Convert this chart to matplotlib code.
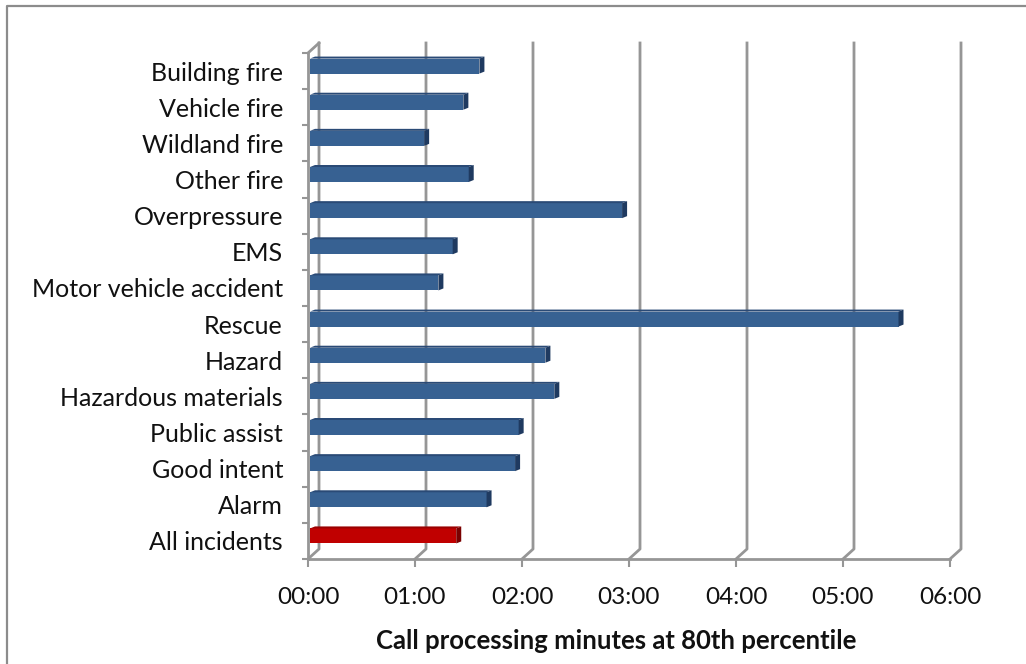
import numpy as np
import matplotlib
matplotlib.use("Agg")
import matplotlib.pyplot as plt
from matplotlib.lines import Line2D
from matplotlib.patches import Polygon
from matplotlib.ticker import FuncFormatter, MultipleLocator

# incident types, top to bottom
categories = ["Building fire", "Vehicle fire", "Wildland fire", "Other fire",
              "Overpressure", "EMS", "Motor vehicle accident", "Rescue",
              "Hazard", "Hazardous materials", "Public assist", "Good intent",
              "Alarm", "All incidents"]
# call processing time at the 80th percentile, in seconds
seconds = [95, 86, 64, 89, 175, 80, 72, 330, 132, 137, 117, 115, 99, 82]
highlight = "All incidents"
x_max = 360      # 6 minutes
x_step = 60

plt.rcParams["font.family"] = ["Lato", "DejaVu Sans"]

W, H = 1026, 664
fig = plt.figure(figsize=(W / 100, H / 100), dpi=100)

# front plane of the plot area, pixels from the top-left corner
left, right, top, bottom = 308, 950, 53, 559
ax = fig.add_axes([left / W, 1 - bottom / H, (right - left) / W, (bottom - top) / H])

n = len(categories)
ax.set_xlim(0, x_max)
ax.set_ylim(-0.5, n - 0.5)
ypos = np.arange(n)[::-1]

# size of one pixel in data units, for the fake 3d depth
px_x = x_max / (right - left)
px_y = n / (bottom - top)
depth_x, depth_y = 11 * px_x, 10 * px_y

grid_col = "#969696"

# back wall gridlines and the floor lines that join them to the front ticks
for s in range(0, x_max + 1, x_step):
    ax.plot([s, s + depth_x, s + depth_x],
            [-0.5, -0.5 + depth_y, n - 0.5 + depth_y],
            color=grid_col, lw=2.0, clip_on=False, zorder=1)
ax.plot([0, depth_x], [n - 0.5, n - 0.5 + depth_y],
        color=grid_col, lw=2.0, clip_on=False, zorder=1)

# bars: front face from barh, plus a dark top strip and end cap
face_x0 = 2 * px_x
shift_y = 5 * px_y
bar_h = 15 * px_y
cap_dx, cap_dy = 5 * px_x, 2 * px_y

front = ["#c00000" if c == highlight else "#376192" for c in categories]
side = ["#7a0000" if c == highlight else "#1f3a60" for c in categories]
lid = ["#9a0000" if c == highlight else "#2a4a76" for c in categories]

ax.barh(ypos + shift_y, seconds, left=face_x0, height=bar_h,
        color=front, zorder=3)

for y, v, sc, tc in zip(ypos, seconds, side, lid):
    x1 = face_x0 + v
    yb = y + shift_y - bar_h / 2
    yt = yb + bar_h
    ax.add_patch(Polygon([(face_x0, yt), (x1, yt), (x1 + cap_dx, yt + cap_dy),
                          (face_x0 + cap_dx, yt + cap_dy)],
                         closed=True, color=tc, lw=0, zorder=3))
    ax.add_patch(Polygon([(x1, yb), (x1, yt), (x1 + cap_dx, yt + cap_dy),
                          (x1 + cap_dx, yb + cap_dy)],
                         closed=True, color=sc, lw=0, zorder=3))

# axes
for sp in ["top", "right"]:
    ax.spines[sp].set_visible(False)
for sp in ["left", "bottom"]:
    ax.spines[sp].set_color(grid_col)
    ax.spines[sp].set_linewidth(2.0)
    ax.spines[sp].set_zorder(2)

ax.xaxis.set_major_locator(MultipleLocator(x_step))
ax.xaxis.set_major_formatter(FuncFormatter(lambda s, p: f"{int(s) // 60:02d}:{int(s) % 60:02d}"))
ax.tick_params(axis="x", direction="out", length=6, width=1.5, color=grid_col,
               labelsize=17.5, pad=14, labelcolor="#111111")

ax.set_yticks(ypos, labels=categories)
ax.set_yticks(np.arange(-0.5, n, 1.0), minor=True)
ax.tick_params(axis="y", which="major", length=0, pad=18, labelsize=18,
               labelcolor="#111111")
ax.tick_params(axis="y", which="minor", direction="out", length=4.5,
               width=1.5, color=grid_col)

ax.set_xlabel("Call processing minutes at 80th percentile", fontsize=18.5,
              fontweight="bold", color="#111111")
ax.xaxis.set_label_coords(0.48, -0.138)

# outer border
fig.add_artist(Line2D([6.5 / W, 6.5 / W, 1], [0, 1 - 5.5 / H, 1 - 5.5 / H],
                      transform=fig.transFigure, color="#8c8c8c", lw=1.6))

fig.savefig("out.png", dpi=100)
